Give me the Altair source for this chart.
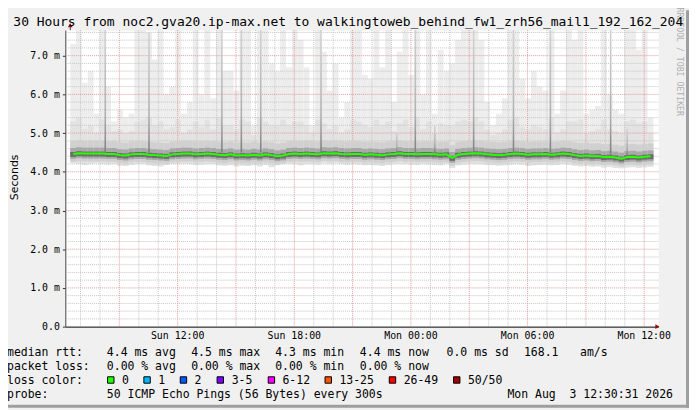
import altair as alt
import pandas as pd

# ---------------- values ----------------
START = "2026-08-02T06:30:00Z"   # Sun 06:30 (30 hours before the stamp)
N_COLS = 100                      # smoke columns, 18 minutes each
COL_MIN = 18

# median round-trip time per column (ms)
median_ms = [
    4.46, 4.48, 4.47, 4.47, 4.47, 4.47, 4.46, 4.46, 4.43, 4.42,
    4.45, 4.46, 4.46, 4.44, 4.43, 4.42, 4.41, 4.45, 4.46, 4.47,
    4.47, 4.45, 4.46, 4.47, 4.46, 4.44, 4.43, 4.45, 4.42, 4.43,
    4.42, 4.44, 4.42, 4.45, 4.43, 4.40, 4.42, 4.46, 4.47, 4.46,
    4.47, 4.46, 4.45, 4.48, 4.47, 4.48, 4.46, 4.45, 4.46, 4.46,
    4.44, 4.45, 4.44, 4.43, 4.45, 4.46, 4.48, 4.46, 4.46, 4.45,
    4.46, 4.46, 4.45, 4.44, 4.45, 4.36, 4.44, 4.46, 4.47, 4.48,
    4.47, 4.45, 4.44, 4.43, 4.44, 4.46, 4.47, 4.46, 4.44, 4.45,
    4.45, 4.46, 4.44, 4.45, 4.47, 4.46, 4.43, 4.41, 4.42, 4.40,
    4.41, 4.38, 4.39, 4.37, 4.34, 4.38, 4.39, 4.37, 4.39, 4.40,
]
# lowest ping of each column (ms)
smoke_lo = [
    4.22, 4.20, 4.18, 4.20, 4.22, 4.20, 4.19, 4.20, 4.16, 4.15,
    4.18, 4.20, 4.20, 4.17, 4.15, 4.14, 4.18, 4.20, 4.20, 4.21,
    4.20, 4.18, 4.19, 4.20, 4.20, 4.17, 4.16, 4.18, 4.14, 4.16,
    4.15, 4.17, 4.14, 4.18, 4.12, 4.17, 4.20, 4.21, 4.20, 4.17,
    4.20, 4.20, 4.19, 4.22, 4.20, 4.22, 4.20, 4.18, 4.20, 4.19,
    4.17, 4.18, 4.17, 4.15, 4.18, 4.20, 4.21, 4.20, 4.19, 4.18,
    4.20, 4.19, 4.18, 4.17, 4.20, 4.10, 4.17, 4.19, 4.21, 4.20,
    4.20, 4.18, 4.17, 4.16, 4.17, 4.19, 4.20, 4.19, 4.15, 4.17,
    4.18, 4.19, 4.17, 4.18, 4.20, 4.19, 4.16, 4.14, 4.15, 4.13,
    4.14, 4.11, 4.12, 4.10, 4.09, 4.11, 4.12, 4.10, 4.12, 4.13,
]
# top of the dense part of the smoke (ms)
smoke_mid = [
    5.30, 5.40, 5.10, 5.20, 5.00, 5.35, 5.20, 5.05, 5.10, 5.00,
    5.05, 5.30, 5.35, 5.40, 5.20, 5.30, 5.10, 5.15, 5.35, 5.00,
    5.10, 5.30, 5.15, 5.35, 5.10, 5.40, 5.20, 5.20, 5.10, 5.35,
    5.30, 4.95, 5.40, 5.30, 5.20, 5.20, 5.35, 5.20, 5.30, 5.30,
    5.20, 5.00, 5.35, 5.25, 5.10, 5.20, 5.00, 5.10, 5.35, 5.30,
    5.20, 5.15, 5.35, 5.20, 5.30, 5.05, 5.25, 5.35, 5.15, 5.40,
    5.10, 5.30, 5.00, 5.25, 5.20, 5.20, 5.30, 5.35, 5.30, 5.40,
    5.30, 5.10, 4.95, 5.00, 5.10, 5.35, 5.40, 5.15, 5.10, 5.20,
    5.15, 5.10, 5.40, 5.00, 5.10, 5.30, 5.30, 5.35, 5.00, 5.05,
    5.10, 5.35, 5.10, 5.05, 5.00, 5.30, 5.35, 5.25, 5.30, 5.00,
]
# highest ping of each column (ms)
smoke_hi = [
    7.30, 7.66, 6.30, 6.60, 5.50, 7.66, 6.20, 5.30, 5.60, 5.40,
    5.50, 7.66, 7.66, 7.60, 6.90, 7.66, 6.00, 6.20, 7.66, 5.50,
    5.80, 7.66, 6.00, 7.66, 5.90, 7.66, 6.60, 6.60, 6.10, 7.66,
    7.66, 5.20, 7.66, 7.66, 6.80, 6.60, 7.66, 6.70, 7.66, 7.40,
    6.70, 5.20, 7.66, 7.10, 6.10, 6.80, 5.40, 5.80, 7.66, 7.66,
    6.50, 6.40, 7.66, 6.70, 7.66, 5.80, 7.10, 7.66, 6.50, 7.66,
    6.00, 7.66, 5.50, 7.15, 6.60, 6.80, 7.40, 7.66, 7.66, 7.66,
    7.40, 5.80, 5.20, 5.50, 5.90, 7.66, 7.66, 6.40, 5.90, 6.60,
    6.20, 6.10, 7.66, 5.50, 6.10, 7.66, 7.40, 7.66, 5.50, 5.60,
    5.70, 7.66, 6.00, 5.60, 5.50, 7.66, 7.66, 7.15, 7.66, 5.40,
]
# darker single-step outliers (spikes)
spike_times = [
    "2026-08-02T08:18:00Z", "2026-08-02T10:33:00Z", "2026-08-02T14:18:00Z",
    "2026-08-02T15:18:00Z", "2026-08-02T16:18:00Z", "2026-08-02T19:24:00Z",
    "2026-08-02T23:18:00Z", "2026-08-03T00:15:00Z", "2026-08-03T01:15:00Z",
    "2026-08-03T03:15:00Z", "2026-08-03T05:18:00Z", "2026-08-03T07:12:00Z",
    "2026-08-03T10:18:00Z", "2026-08-03T11:09:00Z",
]
spike_base = [4.50, 4.50, 4.50, 4.50, 4.50, 4.50, 4.50, 4.50, 4.50, 4.50, 4.50, 4.50, 4.45, 4.42]
spike_top = [7.66, 7.60, 7.66, 7.66, 7.66, 7.66, 5.00, 7.66, 5.20, 7.66, 7.66, 7.66, 7.66, 5.10]

x_label_times = ["2026-08-02T12:00:00Z", "2026-08-02T18:00:00Z", "2026-08-03T00:00:00Z",
                 "2026-08-03T06:00:00Z", "2026-08-03T12:00:00Z"]
y_label_values = [0, 1, 2, 3, 4, 5, 6, 7]
Y_MAX = 7.66

title_text = ("Last 30 Hours from noc2.gva20.ip-max.net to "
              "walkingtoweb_behind_fw1_zrh56_mail1_192_162_204")
y_title = "Seconds"
watermark = "RRDTOOL / TOBI OETIKER"
rtt_stats = [("avg", 4.4), ("max", 4.5), ("min", 4.3), ("now", 4.4)]
rtt_sd = 0.0
am_per_s = 168.1
loss_stats = [("avg", 0.00), ("max", 0.00), ("min", 0.00), ("now", 0.00)]
loss_labels = ["0", "1", "2", "3-5", "6-12", "13-25", "26-49", "50/50"]
loss_colors = ["#26ff00", "#00b8ff", "#0059ff", "#7e00ff", "#ff00ff", "#ff5500", "#ff0000", "#a10000"]
probe_text = "50 ICMP Echo Pings (56 Bytes) every 300s"
stamp_text = "Mon Aug\u00a0 3 12:30:31 2026"

# ---------------- layout (pixels relative to the plot's top-left) ----------------
row_y = [330, 344, 358, 372.5]
stat_x = [42, 127.3, 212.3, 298]
sd_x, ams_x, ams_unit_x = 385.7, 464, 520.7
swatch_x = [46, 82.7, 119.5, 156.8, 208.5, 266, 331, 396]
swatch_label_x = [57.3, 94, 130.7, 168.3, 219.7, 277.3, 342.3, 407.3]
left_x = -59

# ---------------- tables ----------------
t0 = pd.Timestamp(START)
fmt = "%Y-%m-%dT%H:%M:%SZ"
col_start = [t0 + pd.Timedelta(minutes=COL_MIN * j) for j in range(N_COLS)]
cols = pd.DataFrame({
    "t": [c.strftime(fmt) for c in col_start],
    "t2": [(c + pd.Timedelta(minutes=COL_MIN)).strftime(fmt) for c in col_start],
    "tc": [(c + pd.Timedelta(minutes=COL_MIN / 2)).strftime(fmt) for c in col_start],
    "lo": smoke_lo, "mid": smoke_mid, "hi": smoke_hi, "median": median_ms,
})
spikes = pd.DataFrame({"t": spike_times, "base": spike_base, "top": spike_top})

hours = pd.date_range("2026-08-02 07:00", "2026-08-03 12:00", freq="1h")
minor_v = pd.DataFrame({"t": [h.strftime(fmt) for h in hours if h.hour % 3 != 0]})
major_v = pd.DataFrame({"t": [h.strftime(fmt) for h in hours if h.hour % 3 == 0]})
minor_h = pd.DataFrame({"v": [round(0.2 * k, 1) for k in range(1, 39) if k % 5 != 0]})
major_h = pd.DataFrame({"v": [float(k) for k in range(1, 8)]})

legend_rows = []
legend_rows.append(("median rtt:", left_x, row_y[0]))
for (name, val), px in zip(rtt_stats, stat_x):
    legend_rows.append((f"{val:.1f} ms {name}", px, row_y[0]))
legend_rows.append((f"{rtt_sd:.1f} ms sd", sd_x, row_y[0]))
legend_rows.append((f"{am_per_s:.1f}", ams_x, row_y[0]))
legend_rows.append(("am/s", ams_unit_x, row_y[0]))
legend_rows.append(("packet loss:", left_x, row_y[1]))
for (name, val), px in zip(loss_stats, stat_x):
    legend_rows.append((f"{val:.2f} % {name}", px, row_y[1]))
legend_rows.append(("loss color:", left_x, row_y[2]))
for lab, px in zip(loss_labels, swatch_label_x):
    legend_rows.append((lab, px, row_y[2]))
legend_rows.append(("probe:", left_x, row_y[3]))
legend_rows.append((probe_text, 42, row_y[3]))
legend_rows.append((stamp_text, 447.3, row_y[3]))
legend_df = pd.DataFrame(legend_rows, columns=["text", "px", "py"])
swatch_df = pd.DataFrame({"label": loss_labels, "color": loss_colors,
                          "px": swatch_x, "py": [row_y[2] - 4] * len(loss_labels)})

# ---------------- scales and axes ----------------
MONO = "DejaVu Sans Mono"
dt_start = alt.DateTime(year=2026, month=8, date=2, hours=6, minutes=30, utc=True)
dt_end = alt.DateTime(year=2026, month=8, date=3, hours=12, minutes=30, utc=True)
x_vals = [alt.DateTime(year=int(s[0:4]), month=int(s[5:7]), date=int(s[8:10]),
                       hours=int(s[11:13]), minutes=0, utc=True) for s in x_label_times]
xs = alt.Scale(type="utc", domain=[dt_start, dt_end], nice=False)
ys = alt.Scale(domain=[0, Y_MAX], nice=False, zero=False)
xaxis = alt.Axis(values=x_vals, labelExpr="utcFormat(datum.value, '%a %H:%M')", title=None,
                 grid=False, ticks=False, tickSize=0, labelPadding=4, domainColor="#000000",
                 domainWidth=1, labelFont=MONO, labelFontSize=10, labelColor="#000000",
                 labelFlush=False, labelOverlap=False)
yaxis = alt.Axis(values=y_label_values,
                 labelExpr="datum.value == 0 ? '0.0' : format(datum.value, '.1f') + ' m'",
                 title=None, grid=False, tickSize=3, tickColor="#333333", labelPadding=3,
                 domainColor="#444444", domainWidth=1, labelFont=MONO, labelFontSize=10,
                 labelColor="#000000", labelFlush=False, labelOverlap=False)


def X(f):
    return alt.X(f, type="temporal", scale=xs, axis=xaxis)


def Y(f):
    return alt.Y(f, type="quantitative", scale=ys, axis=yaxis)


base = alt.Chart(cols)
smoke_light = base.mark_rect(color="#ededed").encode(x=X("t"), x2="t2", y=Y("lo"), y2="hi")
smoke_dense = base.mark_rect(color="#e2e2e2").encode(x=X("t"), x2="t2", y=Y("lo"), y2="mid")

grid_minor_v = alt.Chart(minor_v).mark_rule(color="#c4c4c4", strokeDash=[1, 1], xOffset=0.5).encode(x=X("t"))
grid_major_v = alt.Chart(major_v).mark_rule(color="#e59a9a", strokeDash=[1, 1], xOffset=0.5).encode(x=X("t"))
grid_minor_h = alt.Chart(minor_h).mark_rule(color="#c4c4c4", strokeDash=[1, 1]).encode(y=Y("v"))
grid_major_h = alt.Chart(major_h).mark_rule(color="#e59a9a", strokeDash=[1, 1]).encode(y=Y("v"))

band1 = base.mark_rect(color="#d0d0d0", yOffset=-13, y2Offset=8).encode(x=X("t"), x2="t2", y=Y("median"), y2="median")
band2 = base.mark_rect(color="#a8a8a8", yOffset=-6, y2Offset=5).encode(x=X("t"), x2="t2", y=Y("median"), y2="median")
band3 = base.mark_rect(color="#6c6c6c", yOffset=-2, y2Offset=3).encode(x=X("t"), x2="t2", y=Y("median"), y2="median")

spike_fill = {"gradient": "linear", "x1": 0, "y1": 1, "x2": 0, "y2": 0,
              "stops": [{"offset": 0, "color": "#7e7e7e"},
                        {"offset": 0.3, "color": "#b0b0b0"},
                        {"offset": 1, "color": "#d2d2d2"}]}
spike_layer = alt.Chart(spikes).mark_bar(size=1.6, fill=spike_fill).encode(x=X("t"), y=Y("base"), y2="top")

median_line = base.mark_line(color="#26ff00", strokeWidth=2).encode(x=X("tc"), y=Y("median"))

arrow_df = pd.DataFrame({"t": [START], "t_end": [cols["t2"].iloc[-1]], "v": [Y_MAX], "z": [0.0]})
y_ext = alt.Chart(arrow_df).mark_rule(color="#444444", y2Offset=-4).encode(x=X("t"), y=Y("v"), y2="v")
y_arrow = alt.Chart(arrow_df).mark_point(shape="triangle-up", filled=True, size=22, color="#a00000",
                                         opacity=1, yOffset=-5).encode(x=X("t"), y=Y("v"))
x_arrow = alt.Chart(arrow_df).mark_point(shape="triangle-right", filled=True, size=22, color="#a00000",
                                         opacity=1, xOffset=4).encode(x=X("t_end"), y=Y("z"))

one = pd.DataFrame({"title": [title_text], "ytitle": [y_title], "wm": [watermark]})
title_layer = alt.Chart(one).mark_text(font=MONO, fontSize=13.1, align="left", baseline="alphabetic",
                                       color="#000000").encode(text="title:N", x=alt.value(-92), y=alt.value(-4.5))
ytitle_layer = alt.Chart(one).mark_text(font="DejaVu Sans", fontSize=11, angle=270, align="center",
                                        baseline="middle", color="#000000").encode(
    text="ytitle:N", x=alt.value(-50.5), y=alt.value(149))
wm_layer = alt.Chart(one).mark_text(font=MONO, fontSize=8.3, angle=90, align="center",
                                    baseline="middle", color="#b0b0b0").encode(
    text="wm:N", x=alt.value(621), y=alt.value(32))

legend_text = alt.Chart(legend_df).mark_text(font=MONO, fontSize=11.6, align="left", baseline="alphabetic",
                                             color="#000000").encode(
    text="text:N", x=alt.X("px:Q", scale=None), y=alt.Y("py:Q", scale=None))
swatches = alt.Chart(swatch_df).mark_square(size=42, opacity=1, stroke="#000000", strokeWidth=1).encode(
    x=alt.X("px:Q", scale=None), y=alt.Y("py:Q", scale=None), color=alt.Color("color:N", scale=None))

border_df = pd.DataFrame({"k": [0]})
border_r = alt.Chart(border_df).mark_rule(color="#9e9e9e", strokeWidth=3).encode(
    x=alt.value(629.5), y=alt.value(-20), y2=alt.value(382))
border_b = alt.Chart(border_df).mark_rule(color="#9e9e9e", strokeWidth=3).encode(
    x=alt.value(-58), x2=alt.value(631), y=alt.value(380.5))

chart = alt.layer(
    smoke_light, smoke_dense,
    grid_minor_v, grid_minor_h, grid_major_v, grid_major_h,
    band1, band2, band3, spike_layer, median_line,
    y_ext, y_arrow, x_arrow,
    wm_layer, title_layer, ytitle_layer, legend_text, swatches, border_r, border_b,
).properties(
    width=600, height=300, background="#f0f0f0",
    padding={"left": 58, "top": 20, "right": 31, "bottom": 82},
    autosize=alt.AutoSizeParams(type="none"),
).configure_view(fill="#ffffff", stroke="transparent")

chart.save("out.html", embed_options={"renderer": "svg", "actions": False})
